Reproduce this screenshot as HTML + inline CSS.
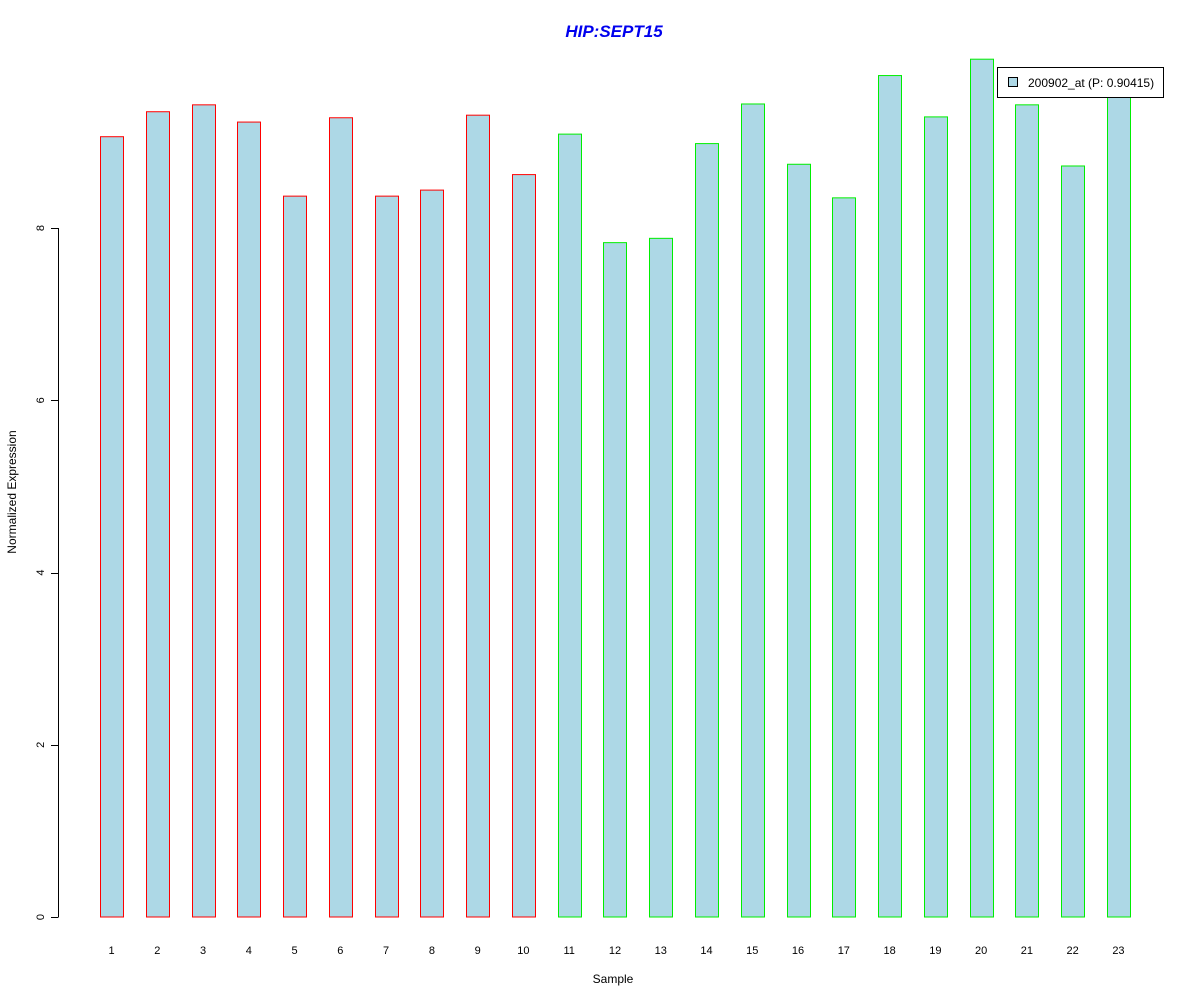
<!DOCTYPE html>
<html><head><meta charset="utf-8"><style>
body{margin:0;background:#fff}
svg{display:block;font-family:"Liberation Sans",Arial,sans-serif}
</style></head><body>
<svg id="chart" width="1200" height="1000">
<text x="614" y="37" text-anchor="middle" fill="#0000ee" font-size="17" font-weight="bold" font-style="italic">HIP:SEPT15</text>
<text x="613" y="983" text-anchor="middle" font-size="12">Sample</text>
<text transform="translate(16,492) rotate(-90)" text-anchor="middle" font-size="12">Normalized Expression</text>
<g id="bars"></g><g id="yaxis"></g><g id="xlabels"></g>
<g>
<rect x="997.5" y="67.5" width="166" height="30" fill="#fff" stroke="#000"/>
<rect x="1008.5" y="77.5" width="9" height="9" fill="#add8e6" stroke="#000"/>
<text x="1028" y="87" font-size="12">200902_at (P: 0.90415)</text>
</g>
</svg>
<script>
const categories=["1","2","3","4","5","6","7","8","9","10","11","12","13","14","15","16","17","18","19","20","21","22","23"];
const values=[9.06,9.35,9.43,9.23,8.37,9.28,8.37,8.44,9.31,8.62,9.09,7.83,7.88,8.98,9.44,8.74,8.35,9.77,9.29,9.96,9.43,8.72,9.54];
const groups=["A","A","A","A","A","A","A","A","A","A","B","B","B","B","B","B","B","B","B","B","B","B","B"];
const yTicks=[0,2,4,6,8];
const ns="http://www.w3.org/2000/svg";
const y=v=>917-v*86.125;
const xc=i=>111.5+i*45.77;
const bw=23;
const bars=document.getElementById('bars');
values.forEach((v,i)=>{
 const r=document.createElementNS(ns,'rect');
 
 
 r.setAttribute('x',(Math.round(xc(i)-bw/2)+0.5));
 r.setAttribute('y',y(v));
 r.setAttribute('width',bw);
 r.setAttribute('height',917-y(v));
 r.setAttribute('fill','#add8e6');
 r.setAttribute('stroke',groups[i]==="A"?'#ff0000':'#00ee00');
 bars.appendChild(r);
 const t=document.createElementNS(ns,'text');
 
 
 t.setAttribute('x',xc(i));t.setAttribute('y',954);
 t.setAttribute('text-anchor','middle');t.setAttribute('font-size','11');
 t.textContent=categories[i];
 document.getElementById('xlabels').appendChild(t);
});
const ya=document.getElementById('yaxis');
const ax=document.createElementNS(ns,'line');


ax.setAttribute('x1',58.5);ax.setAttribute('x2',58.5);
ax.setAttribute('y1',y(yTicks[yTicks.length-1]));ax.setAttribute('y2',y(yTicks[0]));
ax.setAttribute('stroke','#000');ya.appendChild(ax);
yTicks.forEach(v=>{
 const l=document.createElementNS(ns,'line');
 
 
 l.setAttribute('x1',51);l.setAttribute('x2',58.5);
 l.setAttribute('y1',Math.round(y(v))+0.5);l.setAttribute('y2',Math.round(y(v))+0.5);
 l.setAttribute('stroke','#000');ya.appendChild(l);
 const t=document.createElementNS(ns,'text');
 
 
 t.setAttribute('transform','translate(44,'+y(v)+') rotate(-90)');
 t.setAttribute('text-anchor','middle');t.setAttribute('font-size','11');
 t.textContent=v;ya.appendChild(t);
});
</script>
</body></html>
